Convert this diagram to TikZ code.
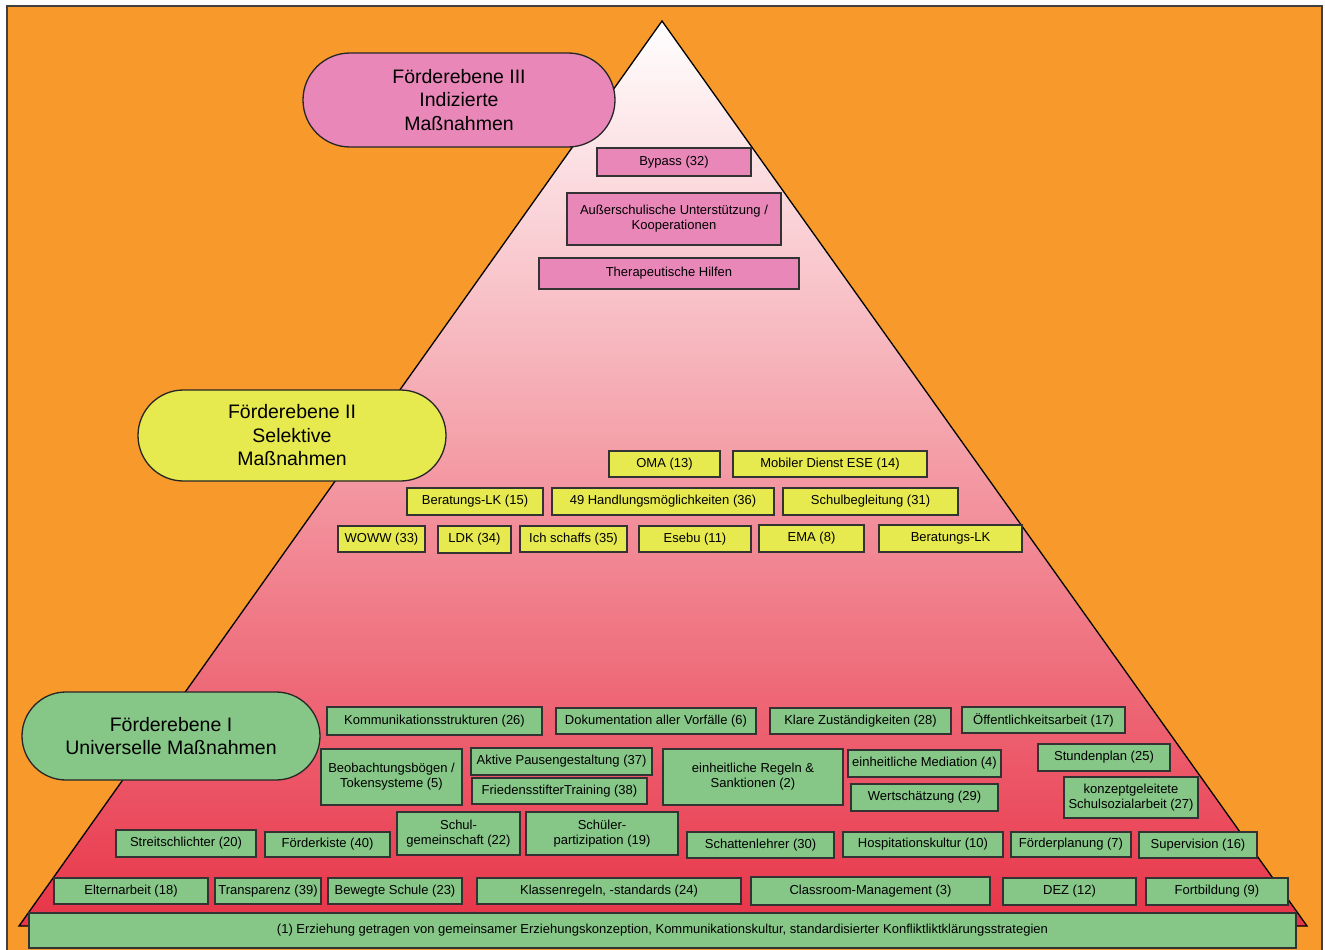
\documentclass[tikz,border=0pt]{standalone}
\usepackage{fontspec}
\setmainfont{Liberation Sans}
\definecolor{bgorange}{RGB}{247,153,43}
\definecolor{pyrred}{RGB}{232,52,72}
\definecolor{pinkc}{RGB}{234,135,185}
\definecolor{yellowc}{RGB}{230,234,78}
\definecolor{greenc}{RGB}{134,198,135}
\tikzset{
  basebox/.style={draw=black!80, line width=1.3pt, inner sep=0pt, align=center, font=\fontsize{13}{15}\selectfont},
  pbox/.style={basebox, fill=pinkc},
  ybox/.style={basebox, fill=yellowc},
  gbox/.style={basebox, fill=greenc},
  stadium/.style={draw=black!85, line width=1.3pt, inner sep=0pt, align=center, font=\fontsize{19.5}{23.5}\selectfont},
}
\newcommand\boxat[7]{\node[#1, minimum width={(#5-#3)*1pt}, minimum height={(#6-#4)*1pt}] (#2) at ({(#3+#5)/2},{(#4+#6)/2}) {#7};}
\begin{document}
\begin{tikzpicture}[x=1pt,y=-1pt]
\useasboundingbox (0,0) rectangle (1325,950);
\fill[white] (0,0) rectangle (1325,950);
\begin{scope}
\clip (0,0) rectangle (1325,950);
\filldraw[fill=bgorange, draw=black!75, line width=1.5pt] (7,6) rectangle (1322,960);
\end{scope}
% pyramid
\shade[top color=white, bottom color=pyrred] (662,21) -- (1307,926) -- (19,926) -- cycle;
\draw[line width=1.3pt, line join=miter] (662,21) -- (1307,926) -- (19,926) -- cycle;

% level III
\node[stadium, fill=pinkc, rounded corners=47pt, minimum width=312pt, minimum height=94pt] (lvl3) at (459,100) {Förderebene III\\Indizierte\\Maßnahmen};
\boxat{pbox}{bypass}{597}{148}{751}{176}{Bypass (32)}
\boxat{pbox}{ausser}{567}{193}{781}{245}{Außerschulische Unterstützung /\\Kooperationen}
\boxat{pbox}{thera}{539}{258}{799}{289}{Therapeutische Hilfen}

% level II
\node[stadium, fill=yellowc, rounded corners=45.5pt, minimum width=308pt, minimum height=91pt] (lvl2) at (292,435.5) {Förderebene II\\Selektive\\Maßnahmen};
\boxat{ybox}{oma}{609}{451}{720}{477}{OMA (13)}
\boxat{ybox}{mobil}{733}{451}{927}{477}{Mobiler Dienst ESE (14)}
\boxat{ybox}{berat15}{407}{488}{543}{515}{Beratungs-LK (15)}
\boxat{ybox}{hand}{552}{488}{774}{515}{49 Handlungsmöglichkeiten (36)}
\boxat{ybox}{schulbeg}{783}{488}{958}{515}{Schulbegleitung (31)}
\boxat{ybox}{woww}{338}{526}{425}{552}{WOWW (33)}
\boxat{ybox}{ldk}{438}{526}{511}{553}{LDK (34)}
\boxat{ybox}{ich}{520}{526}{627}{552}{Ich schaffs (35)}
\boxat{ybox}{esebu}{639}{526}{751}{552}{Esebu (11)}
\boxat{ybox}{ema}{759}{525}{864}{552}{EMA (8)}
\boxat{ybox}{beratlk}{879}{525}{1022}{552}{Beratungs-LK}

% level I
\node[stadium, fill=greenc, rounded corners=44pt, minimum width=298pt, minimum height=88pt] (lvl1) at (171,736) {Förderebene I\\Universelle Maßnahmen};
\boxat{gbox}{komm}{327}{707}{542}{735}{Kommunikationsstrukturen (26)}
\boxat{gbox}{doku}{556}{708}{756}{734}{Dokumentation aller Vorfälle (6)}
\boxat{gbox}{klare}{770}{708}{951}{734}{Klare Zuständigkeiten (28)}
\boxat{gbox}{oeff}{962}{707}{1125}{733}{Öffentlichkeitsarbeit (17)}
\boxat{gbox}{beob}{321}{749}{462}{805}{Beobachtungsbögen /\\Tokensysteme (5)}
\boxat{gbox}{aktiv}{471}{748}{652}{775}{Aktive Pausengestaltung (37)}
\boxat{gbox}{fried}{472}{778}{647}{804}{FriedensstifterTraining (38)}
\boxat{gbox}{regeln}{663}{749}{843}{805}{einheitliche Regeln \&\\Sanktionen (2)}
\boxat{gbox}{medi}{848}{750}{1001}{777}{einheitliche Mediation (4)}
\boxat{gbox}{wert}{851}{784}{998}{811}{Wertschätzung (29)}
\boxat{gbox}{stund}{1038}{744}{1170}{771}{Stundenplan (25)}
\boxat{gbox}{konz}{1064}{777}{1198}{818}{konzeptgeleitete\\Schulsozialarbeit (27)}
\boxat{gbox}{streit}{116}{830}{256}{857}{Streitschlichter (20)}
\boxat{gbox}{foerderk}{265}{832}{390}{857}{Förderkiste (40)}
\boxat{gbox}{schulgem}{397}{812}{520}{855}{Schul-\\gemeinschaft (22)}
\boxat{gbox}{schuelpart}{526}{812}{678}{855}{Schüler-\\partizipation (19)}
\boxat{gbox}{schatten}{687}{832}{834}{858}{Schattenlehrer (30)}
\boxat{gbox}{hosp}{843}{832}{1003}{857}{Hospitationskultur (10)}
\boxat{gbox}{foerderpl}{1011}{832}{1131}{857}{Förderplanung (7)}
\boxat{gbox}{superv}{1139}{832}{1257}{858}{Supervision (16)}
\boxat{gbox}{eltern}{54}{878}{208}{904}{Elternarbeit (18)}
\boxat{gbox}{transp}{215}{878}{321}{904}{Transparenz (39)}
\boxat{gbox}{beweg}{328}{878}{462}{904}{Bewegte Schule (23)}
\boxat{gbox}{klassen}{477}{878}{741}{904}{Klassenregeln, -standards (24)}
\boxat{gbox}{classroom}{751}{877}{990}{905}{Classroom-Management (3)}
\boxat{gbox}{dez}{1003}{878}{1136}{905}{DEZ (12)}
\boxat{gbox}{fortb}{1146}{878}{1288}{905}{Fortbildung (9)}
\boxat{gbox}{erz}{29}{913}{1296}{948}{(1) Erziehung getragen von gemeinsamer Erziehungskonzeption, Kommunikationskultur, standardisierter Konfliktliktklärungsstrategien}
\end{tikzpicture}
\end{document}
